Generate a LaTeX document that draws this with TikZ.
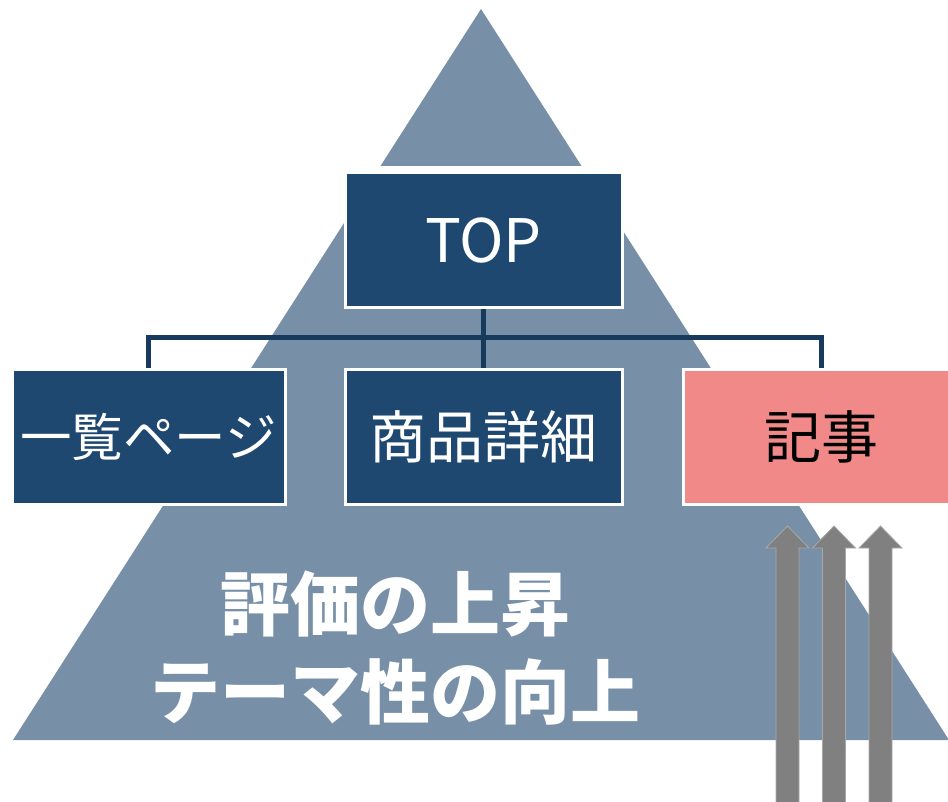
\documentclass[tikz,border=0pt]{standalone}
\usepackage{fontspec}
\newfontfamily\jp{Noto Sans CJK JP}
\usetikzlibrary{backgrounds}
\definecolor{pyrcol}{RGB}{120,144,167}
\definecolor{boxblue}{RGB}{31,72,112}
\definecolor{boxpink}{RGB}{242,137,137}
\definecolor{conncol}{RGB}{24,58,93}
\definecolor{arrgray}{RGB}{128,128,128}
\definecolor{arredge}{RGB}{168,168,168}
\tikzset{
  pyr/.style={fill=pyrcol},
  pagebox/.style={draw=white, line width=3pt, minimum width=277pt, minimum height=135pt, inner sep=0pt, text=white, font=\jp\fontsize{57}{64}\selectfont},
  bluebox/.style={pagebox, fill=boxblue},
  pinkbox/.style={pagebox, fill=boxpink, text=black},
  conn/.style={draw=conncol, line width=5pt},
  bigtxt/.style={text=white, font=\jp\bfseries\fontsize{70}{80}\selectfont, inner sep=0pt},
  arrsty/.style={fill=arrgray, draw=arredge, line width=0.8pt},
  uparr/.pic={\filldraw[arrsty] (0,0) -- (21.5,22) -- (11.5,22) -- (11.5,300) -- (-11.5,300) -- (-11.5,22) -- (-21.5,22) -- cycle;}
}
\begin{document}
\begin{tikzpicture}[x=1pt,y=-1pt]
\useasboundingbox (0,0) rectangle (948,802);
\clip (0,0) rectangle (948,802);
% boxes
\node[bluebox, font=\jp\fontsize{60}{66}\selectfont] (top) at (483.5,240.5) {TOP};
\node[bluebox, minimum width=273pt, font=\jp\fontsize{51.5}{60}\selectfont] (list) at (148.5,437) {一覧ページ};
\node[bluebox] (prod) at (483.5,437) {商品詳細};
\node[pinkbox] (art) at (821.5,437) {記事};
\coordinate (bus) at (483.5,338);
\begin{scope}[on background layer]
  \fill[pyr] (481,9) -- (581.5,166) -- (380.5,166) -- cycle;
  \fill[pyr] (376.7,172) -- (585.3,172) -- (949,740) -- (13,740) -- cycle;
  \draw[conn] (top.south) -- (prod.north);
  \draw[conn] (list.north) |- (bus) -| (art.north);
\end{scope}
% bottom text
\node[bigtxt] (t1) at (395,604) {評価の上昇};
\node[bigtxt] (t2) at (395,692) {テーマ性の向上};
% arrows
\pic at (787.5,526) {uparr};
\pic at (834,526) {uparr};
\pic at (880.5,526) {uparr};
\end{tikzpicture}
\end{document}
